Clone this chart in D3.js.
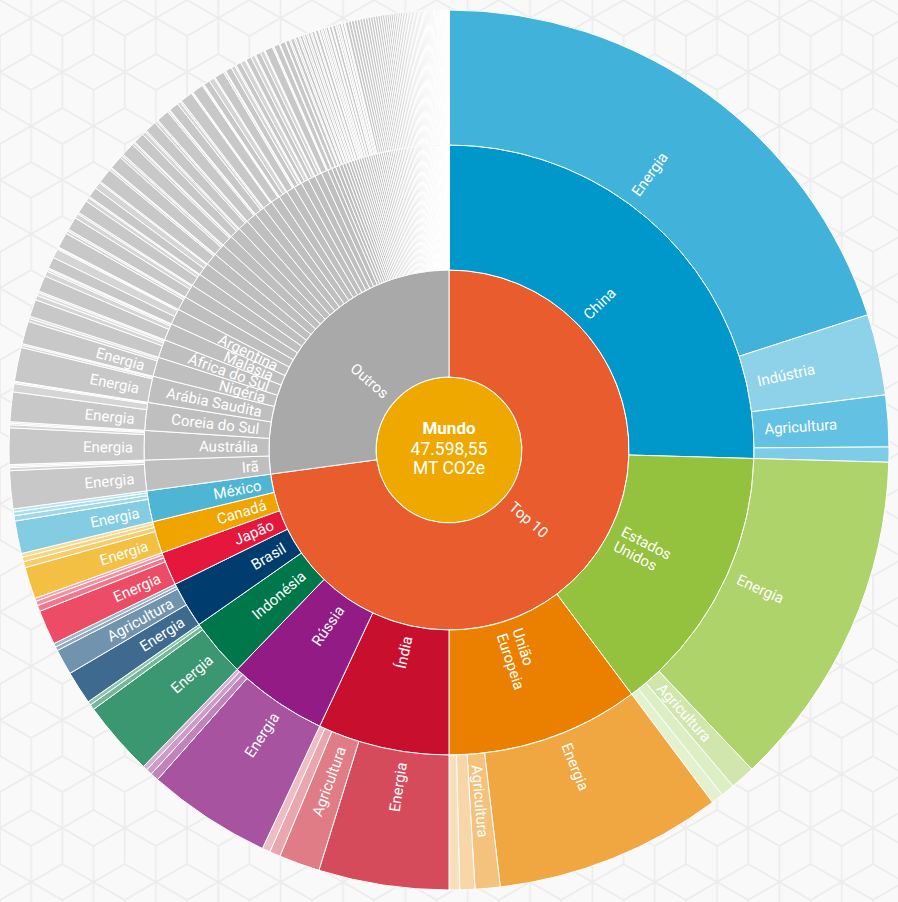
<!DOCTYPE html>
<html><head><meta charset="utf-8">
<script src="https://cdn.jsdelivr.net/npm/d3@7"></script>
<style>
html,body{margin:0;padding:0;background:#f9f9f9;}
svg{display:block;font-family:Roboto,"Open Sans",sans-serif;}
</style>
</head><body>
<svg id="chart" width="898" height="902"></svg>
<script>
// ---------------- DATA ----------------
const centerLines = ["Mundo", "47.598,55", "MT CO2e"];
const groupNames = ["Top 10", "Outros"];

const top10Countries = ["China","Estados Unidos","União Europeia","Índia","Rússia","Indonésia","Brasil","Japão","Canadá","México"];
const top10Sectors = [
  [["Energia",9533],["Indústria",1415],["Agricultura",899],["Resíduos",264]],
  [["Energia",5937],["Agricultura",436],["Indústria",238],["Resíduos",212]],
  [["Energia",3980],["Agricultura",436],["Indústria",264],["Resíduos",185]],
  [["Energia",2274],["Agricultura",714],["Resíduos",190],["Indústria",140]],
  [["Energia",2168],["Agricultura",145],["Indústria",106],["Resíduos",79]],
  [["Energia",1309],["Agricultura",93],["Resíduos",66]],
  [["Energia",582],["Agricultura",450],["Resíduos",66],["Indústria",66]],
  [["Energia",608],["Indústria",106],["Agricultura",79],["Resíduos",53]],
  [["Energia",555],["Agricultura",106],["Indústria",79],["Resíduos",66]],
  [["Energia",569],["Agricultura",93],["Resíduos",66],["Indústria",53]]
];

const outrosNamed = ["Irã","Austrália","Coreia do Sul","Arábia Saudita","Nigéria","África do Sul","Malásia","Argentina"];
const outrosNamedSectors = [
  [["Energia",661],["Agricultura",53],["Resíduos",27],["Indústria",26]],
  [["Energia",635],["Agricultura",53],["Indústria",26],["Resíduos",26]],
  [["Energia",516],["Indústria",145],["Resíduos",26],["Agricultura",13]],
  [["Energia",595],["Indústria",40],["Resíduos",27]],
  [["Energia",397],["Agricultura",53],["Resíduos",40]],
  [["Energia",300],["Indústria",80],["Agricultura",50],["Resíduos",30]],
  [["Energia",280],["Agricultura",90],["Indústria",35],["Resíduos",25]],
  [["Energia",200],["Agricultura",160],["Resíduos",25],["Indústria",15]]
];

const smallSectorNames = ["Energia","Agricultura","Outros setores"];
const outrosSmall = [
  ["Turquia",[270,50,30]],["Vietnã",[230,80,30]],["Tailândia",[235,70,25]],["Paquistão",[180,115,25]],
  ["Cazaquistão",[255,35,18]],["Egito",[230,45,30]],["Ucrânia",[230,40,20]],["Congo (RDC)",[190,60,30]],
  ["Venezuela",[200,45,25]],["Argélia",[220,30,19]],
  ["Filipinas",[170,55,30]],["Emirados Árabes Unidos",[215,20,10]],["Iraque",[200,20,15]],["Colômbia",[110,95,20]],
  ["Uzbequistão",[170,30,15]],["Peru",[110,70,25]],["Bolívia",[90,85,20]],["Bangladesh",[95,70,20]],
  ["Myanmar",[90,70,18]],["Turcomenistão",[140,20,10]],
  ["Kuwait",[98,12]],["Catar",[95,9]],["Chile",[68,27]],["Paraguai",[60,30]],["Papua-Nova Guiné",[52,28]],
  ["Etiópia",[46,30]],["Tanzânia",[42,30]],["Sudão",[44,25]],["Angola",[45,21]],["Marrocos",[50,14]],
  ["Sudão do Sul",[35,27]],["Somália",[33,28]],["El Salvador",[42,18]],["República Dominicana",[45,14]],
  ["Brunei",[50,8]],["Afeganistão",[30,27]],["Iêmen",[40,16]],["República do Congo",[35,20]],
  ["Omã",[54]],["Coreia do Norte",[53]],["Camarões",[51]],["Zâmbia",[50]],["Israel",[49]],
  ["Bielorrússia",[48]],["Equador",[47]],["Líbia",[46]],
  ["Azerbaijão",[45]],["Sri Lanka",[44]],["Nova Zelândia",[43]],["Noruega",[42]],["Suíça",[41]],
  ["Cuba",[40]],["Moçambique",[39]],["Costa do Marfim",[38]],["Gana",[37]],["Quênia",[36]],
  ["Síria",[35]],["Sérvia",[34]],["Zimbábue",[33]],["Uganda",[32]],["Madagascar",[31]],
  ["Bahrein",[30]],["Trinidad e Tobago",[29]],["Tunísia",[28]],["Guatemala",[27]],["Chade",[26]],
  ["Níger",[25.5]],["Jordânia",[25]],["Guiné",[24.5]],["Burkina Faso",[24]],["Mongólia",[23.5]],
  ["Nepal",[23]],["Camboja",[22.5]],["Honduras",[22]],["Uruguai",[21.5]],["Senegal",[21]],
  ["Bósnia e Herzegovina",[20.5]],["Mali",[20]],["Laos",[19.5]],["Panamá",[19]],["Nicarágua",[18.5]],
  ["Costa Rica",[18]],["Geórgia",[17.5]],["Armênia",[17]],["Albânia",[16.5]],["Namíbia",[16]],
  ["Botsuana",[15.5]],["Gabão",[15]],["Ruanda",[14.5]],["Benin",[14]],["Togo",[13.5]],
  ["Malawi",[13]],["Haiti",[12.5]],["Jamaica",[12]],["Moldávia",[11.5]],["Islândia",[11]],
  ["Tajiquistão",[10.5]],["Quirguistão",[10]],["Mauritânia",[9.5]],["Serra Leoa",[9]],["Libéria",[8.5]],
  ["Eritreia",[8]],["Lesoto",[7.5]],["Essuatíni",[7]],["Butão",[6.5]],["Guiana",[6]],
  ["Suriname",[5.8]],["Fiji",[5.5]],["Belize",[5.2]],["Maurício",[5]],["Cabo Verde",[4.8]],
  ["Djibuti",[4.5]],["Comores",[4.2]],["Maldivas",[4]],["Samoa",[3.8]],["Tonga",[3.5]],
  ["Vanuatu",[3.2]],["Kiribati",[3]],["Ilhas Salomão",[2.8]],["São Tomé e Príncipe",[2.6]],["Dominica",[2.4]],
  ["Granada",[2.2]],["Santa Lúcia",[2]],["Palau",[1.8]],["Tuvalu",[0.7]]
];

// ---------------- STYLE ----------------
const centerColor = "#eea800";
const groupColors = {"Top 10":"#e85c2e","Outros":"#a9a9a9"};
const countryColors = {
  "China":"#0098cb","Estados Unidos":"#94c13e","União Europeia":"#eb8000","Índia":"#c8102e",
  "Rússia":"#921b85","Indonésia":"#00774a","Brasil":"#003c6e","Japão":"#e6173d",
  "Canadá":"#f0a400","México":"#4eb5d5"
};
const sectorPalettes = {
  "China":["#41b3da","#8ed2ea","#63c1e3","#7dcce8"],
  "Estados Unidos":["#aed36b","#d1e6ad","#dceec3","#e3f1cf"],
  "União Europeia":["#f0a641","#f5c27e","#f8d6a8","#f9e0bc"],
  "Índia":["#d64b5b","#e07c86","#e9a6ae","#eebcc2"],
  "Rússia":["#a853a0","#c084bb","#cc9bc8","#d7b1d3"],
  "Indonésia":["#3b976f","#76b79a","#8fc5ad"],
  "Brasil":["#3e6a90","#7293ad","#8fa9be","#a1b8ca"],
  "Japão":["#ed4c66","#f1788c","#f491a1","#f6a4b2"],
  "Canadá":["#f4c044","#f6cd6a","#f7d480","#f8dc95"],
  "México":["#84cce2","#a0d8e9","#acdeed","#b8e3f0"]
};
const grayCountry = "#bfbfbf";
const grayPalette = ["#c8c8c8","#d5d5d5","#dddddd","#e3e3e3"];
const labelLines = {"Estados Unidos":["Estados","Unidos"],"União Europeia":["União","Europeia"]};

// ---------------- BUILD ----------------
const W = 898, H = 902, cx = 449, cy = 450;
const svg = d3.select("#chart");

// background cube pattern
const s = 36, pw = Math.sqrt(3)*s, ph = 3*s;
const defs = svg.append("defs");
const pat = defs.append("pattern").attr("id","cubes").attr("patternUnits","userSpaceOnUse")
  .attr("width",pw).attr("height",ph);
pat.append("rect").attr("width",pw).attr("height",ph).attr("fill","#f9f9f9");
const hexCenters = [[0,0],[pw,0],[pw/2,ph/2],[0,ph],[pw,ph],[pw/2,-ph/2],[pw/2,ph*1.5]];
let pd = "";
hexCenters.forEach(([hx,hy])=>{
  const v = d3.range(6).map(k=>{const a=(-90+60*k)*Math.PI/180; return [hx+s*Math.cos(a), hy+s*Math.sin(a)];});
  pd += "M"+v.map(p=>p.join(",")).join("L")+"Z";
  pd += `M${hx},${hy}L${v[0][0]},${v[0][1]}M${hx},${hy}L${v[2][0]},${v[2][1]}M${hx},${hy}L${v[4][0]},${v[4][1]}`;
});
pat.append("path").attr("d",pd).attr("fill","none").attr("stroke","#ececec").attr("stroke-width",1.6);
svg.append("rect").attr("width",W).attr("height",H).attr("fill","url(#cubes)");

const rootData = {name:"Mundo", children:[
  {name:groupNames[0], children: top10Countries.map((c,i)=>({name:c, labelled:true,
      children: top10Sectors[i].map(([n,v])=>({name:n, value:v}))}))},
  {name:groupNames[1], children: [
      ...outrosNamed.map((c,i)=>({name:c, labelled:true,
          children: outrosNamedSectors[i].map(([n,v])=>({name:n, value:v}))})),
      ...outrosSmall.map(([c,vals])=>({name:c, labelled:false,
          children: vals.map((v,j)=>({name:smallSectorNames[j], value:v}))}))
  ]}
]};

const root = d3.hierarchy(rootData).sum(d => d.children ? 0 : d.value);
d3.partition().size([2*Math.PI, 4])(root);

const radius = d3.scaleLinear().domain([0,1,2,3,4]).range([0,73,180,305,440]);
const arc = d3.arc()
  .startAngle(d=>d.x0).endAngle(d=>d.x1)
  .innerRadius(d=>radius(d.y0)).outerRadius(d=>radius(d.y1));

function fillOf(d){
  if (d.depth===0) return centerColor;
  if (d.depth===1) return groupColors[d.data.name];
  if (d.depth===2) return countryColors[d.data.name] || grayCountry;
  const pal = sectorPalettes[d.parent.data.name] || grayPalette;
  const idx = d.parent.children.indexOf(d);
  return pal[Math.min(idx, pal.length-1)];
}

const g = svg.append("g").attr("transform",`translate(${cx},${cy})`);
const nodes = root.descendants();

g.selectAll("path.seg").data(nodes).join("path")
  .attr("class","seg")
  .attr("d", arc)
  .attr("fill", fillOf)
  .attr("stroke","#ffffff")
  .attr("stroke-width", d => d.depth===0 ? 1.5 : 1)
  .attr("stroke-linejoin","round");

// labels
const minDeg = 2.5;
function showLabel(d){
  if (d.depth===1) return true;
  if (d.depth===2) return d.data.labelled;
  if (d.depth===3) return d.parent.data.labelled && (d.x1-d.x0)*180/Math.PI >= minDeg;
  return false;
}
const pad = d => d.depth===1 ? 10 : 11;
const lbl = g.selectAll("text.lbl").data(nodes.filter(showLabel)).join("text")
  .attr("class","lbl")
  .attr("fill","#ffffff")
  .attr("font-size", 15)
  .attr("transform", d=>{
    const m = (d.x0+d.x1)/2, r = radius(d.y0)+pad(d);
    const deg = m*180/Math.PI;
    const rot = deg < 180 ? deg-90 : deg-270;
    return `translate(${r*Math.sin(m)},${-r*Math.cos(m)}) rotate(${rot})`;
  })
  .attr("text-anchor", d => (d.x0+d.x1)/2 < Math.PI ? "start" : "end");
lbl.each(function(d){
  const lines = labelLines[d.data.name] || [d.data.name];
  const t = d3.select(this);
  lines.forEach((ln,i)=>{
    t.append("tspan").attr("x",0)
      .attr("dy", i===0 ? (0.35 - (lines.length-1)/2*1.1)+"em" : "1.1em")
      .text(ln);
  });
});

// center text
const ct = g.append("g").attr("fill","#ffffff").attr("text-anchor","middle");
ct.append("text").attr("y",-22).attr("dy","0.35em").attr("font-size",17).attr("font-weight","bold").text(centerLines[0]);
ct.append("text").attr("y",-1).attr("dy","0.35em").attr("font-size",17.5).text(centerLines[1]);
ct.append("text").attr("y",18).attr("dy","0.35em").attr("font-size",17.5).text(centerLines[2]);
</script>
</body></html>
